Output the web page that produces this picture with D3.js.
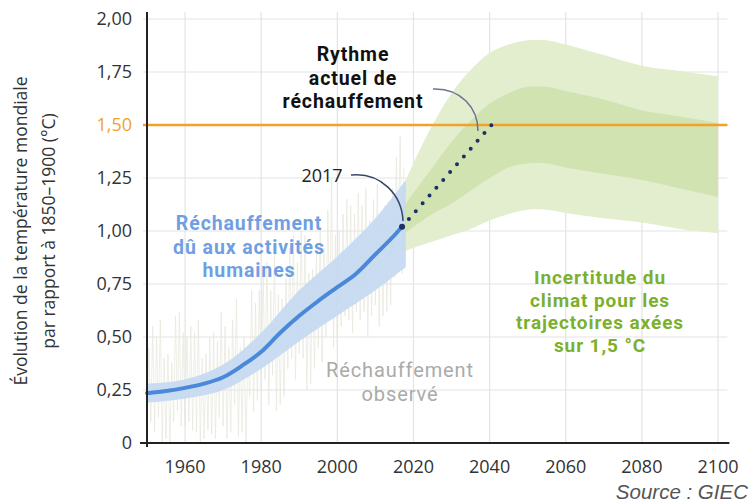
<!DOCTYPE html>
<html lang="fr">
<head>
<meta charset="UTF-8" />
<title>Réchauffement climatique 1,5 °C</title>
<script src="https://cdnjs.cloudflare.com/ajax/libs/d3/7.8.4/d3.min.js"></script>
<style>
  body { margin: 0; background: #fff; overflow: hidden; }
  svg { display: block; }
  text { font-family: "Open Sans", "DejaVu Sans", sans-serif; }
  .grid line { stroke: #e4e4e4; stroke-width: 1.2; }
  .tick-label { font-size: 18px; fill: #333; }
  .note { font-family: Roboto, "Open Sans", sans-serif; letter-spacing: 0.9px; }
</style>
</head>
<body>
<svg width="752" height="503"></svg>
<script>
// --- data ---
const yTicks = [0, 0.25, 0.5, 0.75, 1, 1.25, 1.5, 1.75, 2];
const xTicks = [1960, 1980, 2000, 2020, 2040, 2060, 2080, 2100];

// human-induced warming (central line + likely range)
const humanYears = [1950, 1955, 1960, 1965, 1970, 1975, 1980, 1985, 1990, 1995, 2000, 2005, 2010, 2015, 2017];
const humanMid   = [0.235, 0.245, 0.26, 0.28, 0.31, 0.365, 0.43, 0.52, 0.60, 0.67, 0.735, 0.80, 0.89, 0.98, 1.02];
const bandYears  = [1950, 1960, 1970, 1980, 1990, 2000, 2010, 2018];
const bandLow    = [0.19, 0.21, 0.25, 0.35, 0.48, 0.60, 0.72, 0.83];
const bandHigh   = [0.28, 0.30, 0.37, 0.52, 0.72, 0.88, 1.06, 1.24];

// climate uncertainty for 1.5 °C pathways
const projYears = [2017, 2020, 2025, 2030, 2035, 2040, 2045, 2050, 2055, 2060, 2070, 2080, 2090, 2100];
const outerTop  = [1.20, 1.32, 1.50, 1.65, 1.76, 1.84, 1.88, 1.90, 1.90, 1.88, 1.83, 1.78, 1.755, 1.73];
const innerTop  = [1.10, 1.18, 1.30, 1.42, 1.52, 1.60, 1.65, 1.68, 1.68, 1.66, 1.62, 1.57, 1.54, 1.51];
const innerBot  = [0.98, 1.02, 1.08, 1.13, 1.19, 1.25, 1.30, 1.32, 1.32, 1.30, 1.27, 1.24, 1.20, 1.16];
const outerBot  = [0.90, 0.92, 0.95, 0.98, 1.01, 1.05, 1.08, 1.10, 1.10, 1.085, 1.06, 1.04, 1.01, 0.99];

// current warming rate (dotted)
const rateYears = [2017, 2040.5];
const rateVals  = [1.02, 1.50];

// observed warming, yearly spread (1950–2017)
const obsHigh = [0.45, 0.55, 0.50, 0.58, 0.40, 0.42, 0.38, 0.60, 0.62, 0.52,
                 0.50, 0.55, 0.52, 0.58, 0.40, 0.42, 0.50, 0.52, 0.48, 0.62,
                 0.55, 0.45, 0.58, 0.68, 0.45, 0.50, 0.42, 0.72, 0.66, 0.72,
                 0.80, 0.85, 0.72, 0.92, 0.70, 0.68, 0.78, 0.92, 0.98, 0.85,
                 1.00, 0.98, 0.80, 0.82, 0.90, 1.02, 0.92, 1.10, 1.25, 0.98,
                 1.00, 1.08, 1.15, 1.12, 1.08, 1.18, 1.12, 1.20, 1.05, 1.15,
                 1.22, 1.08, 1.12, 1.14, 1.20, 1.35, 1.45, 1.30];
const obsLow  = [0.02, 0.10, 0.05, 0.12, 0.00, 0.02, 0.00, 0.10, 0.15, 0.08,
                 0.08, 0.10, 0.06, 0.05, 0.00, 0.02, 0.06, 0.04, 0.02, 0.12,
                 0.08, 0.02, 0.05, 0.18, 0.03, 0.05, 0.00, 0.22, 0.15, 0.20,
                 0.25, 0.30, 0.18, 0.32, 0.15, 0.18, 0.22, 0.35, 0.40, 0.30,
                 0.42, 0.40, 0.25, 0.28, 0.35, 0.45, 0.38, 0.50, 0.62, 0.45,
                 0.45, 0.55, 0.60, 0.58, 0.52, 0.62, 0.58, 0.62, 0.50, 0.60,
                 0.65, 0.55, 0.60, 0.62, 0.65, 0.78, 0.90, 0.80];
const obsStart = 1950;

const target = 1.5;

// --- scales ---
const svg = d3.select("svg");
const x = d3.scaleLinear().domain([1950, 2100]).range([147, 718]);
const y = d3.scaleLinear().domain([0, 2]).range([443, 19]);
const xEnd = x(2103);
const fmt = v => v === 0 ? "0" : d3.format(".2f")(v).replace(".", ",");

// grid
const grid = svg.append("g").attr("class", "grid");
grid.selectAll(".h").data(yTicks.filter(d => d > 0)).enter().append("line")
  .attr("x1", 143).attr("x2", xEnd - 2)
  .attr("y1", d => y(d)).attr("y2", d => y(d));
grid.selectAll(".v").data(xTicks).enter().append("line")
  .attr("x1", d => x(d)).attr("x2", d => x(d))
  .attr("y1", 12).attr("y2", y(0));

// observed (faint zigzag)
const obsPts = [];
obsHigh.forEach((h, i) => {
  obsPts.push([obsStart + i, obsLow[i]]);
  obsPts.push([obsStart + i + 0.5, h]);
});
svg.append("path")
  .attr("d", d3.line().x(d => x(d[0])).y(d => y(d[1]))(obsPts))
  .attr("fill", "none").attr("stroke", "#e6e6dd").attr("stroke-width", 0.7);

// green uncertainty bands
const proj = projYears.map((yr, i) => ({ yr, ot: outerTop[i], it: innerTop[i], ib: innerBot[i], ob: outerBot[i] }));
svg.append("path").datum(proj)
  .attr("fill", "#e3eecf")
  .attr("d", d3.area().curve(d3.curveCatmullRom).x(d => x(d.yr)).y0(d => y(d.ob)).y1(d => y(d.ot)));
svg.append("path").datum(proj)
  .attr("fill", "#d0e3b0")
  .attr("d", d3.area().curve(d3.curveCatmullRom).x(d => x(d.yr)).y0(d => y(d.ib)).y1(d => y(d.it)));

// blue band
const band = bandYears.map((yr, i) => ({ yr, lo: bandLow[i], hi: bandHigh[i] }));
svg.append("path").datum(band)
  .attr("fill", "#c4d9f1").attr("opacity", 0.92)
  .attr("d", d3.area().curve(d3.curveCatmullRom).x(d => x(d.yr)).y0(d => y(d.lo)).y1(d => y(d.hi)));

// 1.5 line
svg.append("line")
  .attr("x1", 143).attr("x2", xEnd - 2)
  .attr("y1", y(target)).attr("y2", y(target))
  .attr("stroke", "#f2a22a").attr("stroke-width", 2.5);

// human-induced line
svg.append("path")
  .datum(humanYears.map((yr, i) => [yr, humanMid[i]]))
  .attr("fill", "none").attr("stroke", "#4a88d9").attr("stroke-width", 4)
  .attr("stroke-linecap", "round")
  .attr("d", d3.line().curve(d3.curveMonotoneX).x(d => x(d[0])).y(d => y(d[1])));

// dotted current rate
svg.append("line")
  .attr("x1", x(rateYears[0])).attr("y1", y(rateVals[0]))
  .attr("x2", x(rateYears[1])).attr("y2", y(rateVals[1]))
  .attr("stroke", "#1e2f63").attr("stroke-width", 4)
  .attr("stroke-linecap", "round").attr("stroke-dasharray", "0,10.4");

// axes
svg.append("line").attr("x1", 147).attr("x2", 147).attr("y1", 12).attr("y2", 447)
  .attr("stroke", "#222").attr("stroke-width", 2);
svg.append("line").attr("x1", 140).attr("x2", xEnd).attr("y1", y(0)).attr("y2", y(0))
  .attr("stroke", "#222").attr("stroke-width", 2);

svg.selectAll(".ylab").data(yTicks).enter().append("text")
  .attr("class", "tick-label")
  .attr("x", 132).attr("y", d => y(d)).attr("dy", "0.35em")
  .attr("text-anchor", "end")
  .style("fill", d => d === target ? "#f2a22a" : "#333")
  .text(fmt);

svg.selectAll(".xlab").data(xTicks).enter().append("text")
  .attr("class", "tick-label")
  .attr("x", d => x(d)).attr("y", 473)
  .attr("text-anchor", "middle")
  .text(d => d);

// y title
const yt = svg.append("text")
  .attr("transform", "translate(0,231) rotate(-90)")
  .attr("text-anchor", "middle")
  .style("font-size", "17.5px").style("fill", "#333");
yt.append("tspan").attr("x", 0).attr("y", 27).text("Évolution de la température mondiale");
yt.append("tspan").attr("x", 0).attr("y", 55).text("par rapport à 1850–1900 (°C)");

// annotations
function block(lines, cx, y0, step, color, weight, size) {
  const t = svg.append("text").attr("class", "note").attr("text-anchor", "middle")
    .style("fill", color).style("font-weight", weight).style("font-size", size + "px");
  lines.forEach((l, i) => t.append("tspan").attr("x", cx).attr("y", y0 + i * step).text(l));
}
block(["Rythme", "actuel de", "réchauffement"], 353, 61, 23.5, "#111", 700, 19.5);
block(["Réchauffement", "dû aux activités", "humaines"], 249, 230, 23.5, "#6f9fe2", 700, 19.5);
block(["Réchauffement", "observé"], 400, 377, 24, "#aaa", 400, 20);
block(["Incertitude du", "climat pour les", "trajectoires axées", "sur 1,5 °C"], 600, 284, 22.5, "#7cb02c", 700, 19);

svg.append("text").attr("x", 322).attr("y", 182).attr("text-anchor", "middle")
  .style("font-size", "18px").style("fill", "#222").text("2017");

// leader curves
svg.append("path").attr("d", "M351,175 C381,172 402,195 403,221")
  .attr("fill", "none").attr("stroke", "#3a4568").attr("stroke-width", 1.5);
svg.append("path").attr("d", "M433,89 C461,88 478,108 478,131")
  .attr("fill", "none").attr("stroke", "#6a7394").attr("stroke-width", 1.5);

// 2017 point
svg.append("circle").attr("cx", x(rateYears[0])).attr("cy", y(rateVals[0])).attr("r", 3)
  .attr("fill", "#1e2f63");

svg.append("text").attr("x", 748).attr("y", 499).attr("text-anchor", "end")
  .style("font-family", "'Liberation Sans', Arial, sans-serif")
  .style("font-style", "italic").style("font-size", "20.5px").style("fill", "#555")
  .text("Source : GIEC");
</script>
</body>
</html>
